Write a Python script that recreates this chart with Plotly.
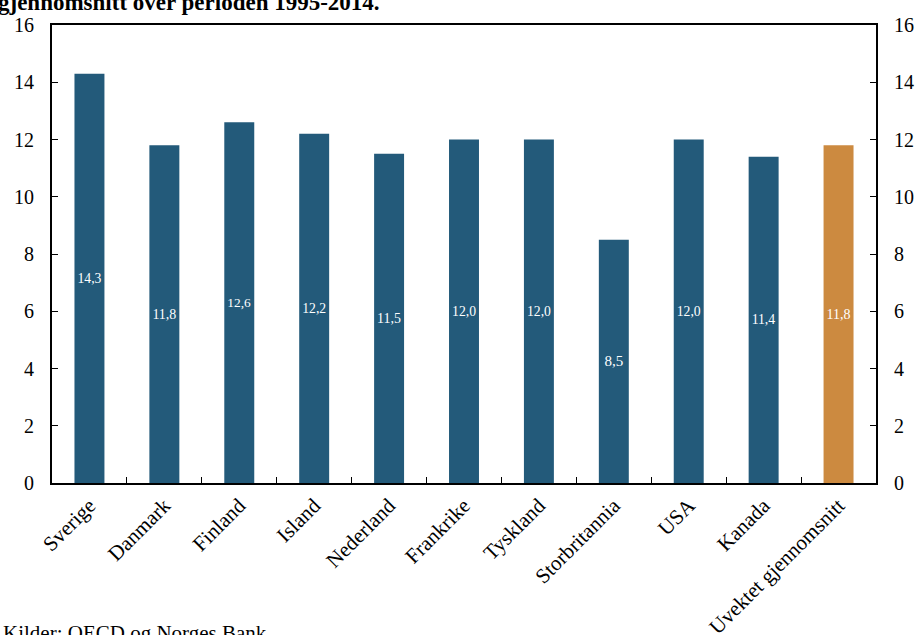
import plotly.graph_objects as go

categories = ["Sverige", "Danmark", "Finland", "Island", "Nederland", "Frankrike",
              "Tyskland", "Storbritannia", "USA", "Kanada", "Uvektet gjennomsnitt"]
values = [14.3, 11.8, 12.6, 12.2, 11.5, 12.0, 12.0, 8.5, 12.0, 11.4, 11.8]
colors = ["#235A7A"] * 10 + ["#CC8A40"]
y_ticks = [0, 2, 4, 6, 8, 10, 12, 14, 16]
title_text = "gjennomsnitt over perioden 1995-2014."
source_text = "Kilder: OECD og Norges Bank"

FONT = "Liberation Serif, Times New Roman, serif"

fig = go.Figure()
fig.add_trace(go.Bar(
    x=categories, y=values, marker=dict(color=colors, line=dict(width=0)),
    width=0.4,
    texttemplate="%{y:.1f}", textposition="inside", insidetextanchor="middle",
    textfont=dict(family=FONT, size=15, color="white"),
    textangle=0, showlegend=False, hoverinfo="skip"))
fig.add_trace(go.Bar(x=categories, y=values, yaxis="y2", opacity=0,
                     showlegend=False, hoverinfo="skip", width=0.4))

fig.update_layout(
    width=915, height=635,
    margin=dict(l=52, r=39, t=25, b=152, autoexpand=False),
    paper_bgcolor="white", plot_bgcolor="white",
    separators=", ",
    barmode="overlay",
    font=dict(family=FONT, size=20, color="black"),
    xaxis=dict(showline=True, linecolor="black", linewidth=2, mirror=True,
               ticks="inside", ticklen=6, tickcolor="black", tickson="boundaries",
               tickangle=-45, tickfont=dict(size=21), showgrid=False, automargin=False),
    yaxis=dict(range=[0, 16], tickvals=y_ticks, showline=True, linecolor="black",
               linewidth=2, ticks="inside", ticklen=6, tickcolor="black",
               showgrid=False, zeroline=False, ticklabelstandoff=12, automargin=False),
    yaxis2=dict(range=[0, 16], tickvals=y_ticks, overlaying="y", side="right",
                showline=True, linecolor="black", linewidth=2, ticks="inside",
                ticklen=6, tickcolor="black", showgrid=False, zeroline=False,
                ticklabelstandoff=12, automargin=False),
)
fig.add_annotation(text="<b>" + title_text + "</b>", xref="paper", yref="paper",
                   x=0, xanchor="left", y=1, yanchor="bottom", yshift=8,
                   showarrow=False, font=dict(size=23), xshift=-56)
fig.add_annotation(text=source_text, xref="paper", yref="paper",
                   x=0, xanchor="left", y=0, yanchor="top", yshift=-136,
                   showarrow=False, font=dict(size=21), xshift=-51)
fig.write_html("out.html")
